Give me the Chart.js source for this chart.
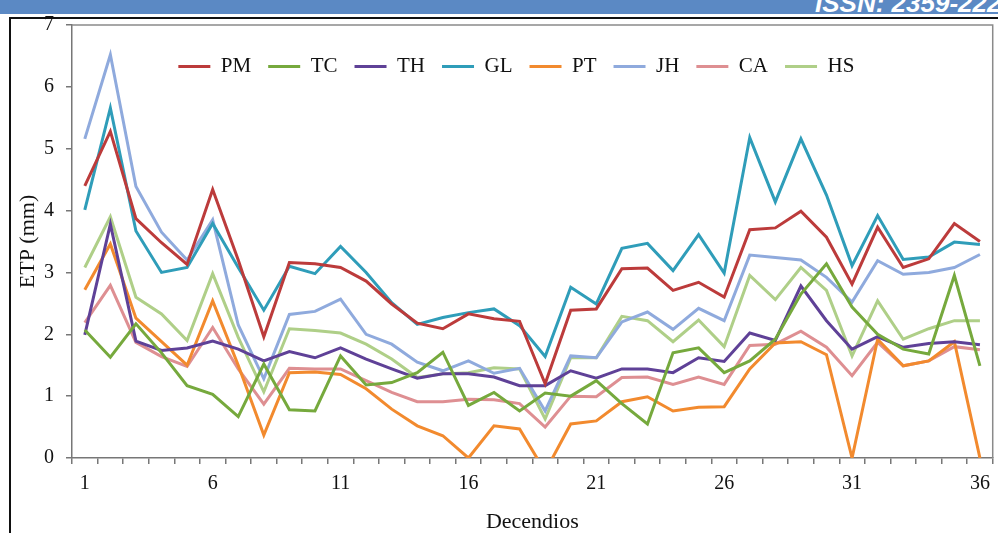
<!DOCTYPE html>
<html>
<head>
<meta charset="utf-8">
<script src="https://cdn.jsdelivr.net/npm/chart.js@4.4.1/dist/chart.umd.min.js"></script>
<style>
  body { margin: 0; background: #fff; }
  #page { position: relative; width: 998px; height: 533px; overflow: hidden; }
  #band { position: absolute; left: 0; top: 0; width: 998px; height: 14px; background: #5b89c4; overflow: hidden; }
  #band span { position: absolute; left: 815px; top: -12px; white-space: nowrap; color: #fff; font: italic bold 26px "Liberation Sans", sans-serif; }
  #frame { position: absolute; left: 9px; top: 17px; width: 1000px; height: 530px; border-left: 2px solid #111; border-top: 2px solid #111; }
  #wrap { position: absolute; left: 0; top: 0; width: 998px; height: 533px; }
</style>
</head>
<body>
<div id="page">
  <div id="band"><span>ISSN: 2359-2222</span></div>
  <div id="frame"></div>
  <div id="wrap"><canvas id="chart"></canvas></div>
</div>
<script>
// Decendios 1..36
const decendios = Array.from({ length: 36 }, (_, i) => String(i + 1));

// ETP (mm) per method
const pm = [4.40, 5.28, 3.87, 3.48, 3.13, 4.34, 3.20, 1.96, 3.16, 3.14, 3.08, 2.86, 2.49, 2.18, 2.09, 2.33, 2.25, 2.21, 1.20, 2.39, 2.41, 3.06, 3.07, 2.71, 2.84, 2.60, 3.69, 3.72, 3.99, 3.57, 2.81, 3.73, 3.08, 3.22, 3.79, 3.50];
const tc = [2.07, 1.63, 2.17, 1.70, 1.17, 1.03, 0.67, 1.52, 0.78, 0.76, 1.65, 1.18, 1.22, 1.38, 1.71, 0.85, 1.06, 0.76, 1.05, 1.00, 1.25, 0.88, 0.55, 1.70, 1.78, 1.38, 1.57, 1.92, 2.65, 3.14, 2.44, 2.00, 1.76, 1.68, 2.95, 1.49];
const th = [1.99, 3.78, 1.89, 1.74, 1.78, 1.89, 1.76, 1.57, 1.72, 1.62, 1.78, 1.60, 1.44, 1.29, 1.36, 1.36, 1.31, 1.17, 1.17, 1.41, 1.29, 1.44, 1.44, 1.38, 1.62, 1.56, 2.02, 1.90, 2.78, 2.22, 1.76, 1.96, 1.79, 1.85, 1.88, 1.83];
const gl = [4.01, 5.66, 3.67, 3.00, 3.08, 3.79, 3.08, 2.39, 3.10, 2.98, 3.42, 3.00, 2.51, 2.16, 2.27, 2.35, 2.41, 2.14, 1.64, 2.76, 2.49, 3.39, 3.47, 3.03, 3.61, 2.99, 5.18, 4.14, 5.16, 4.25, 3.11, 3.92, 3.21, 3.25, 3.49, 3.45];
const pt = [2.72, 3.46, 2.26, 1.88, 1.50, 2.54, 1.50, 0.37, 1.38, 1.39, 1.35, 1.12, 0.79, 0.52, 0.36, 0.00, 0.52, 0.47, -0.22, 0.55, 0.60, 0.91, 0.99, 0.76, 0.82, 0.83, 1.44, 1.86, 1.88, 1.67, 0.00, 1.92, 1.49, 1.57, 1.88, 0.00];
const jh = [5.16, 6.52, 4.39, 3.65, 3.20, 3.85, 2.15, 1.28, 2.32, 2.37, 2.57, 2.00, 1.84, 1.55, 1.41, 1.57, 1.37, 1.45, 0.76, 1.65, 1.62, 2.20, 2.36, 2.08, 2.42, 2.22, 3.28, 3.24, 3.20, 2.92, 2.52, 3.19, 2.97, 3.00, 3.08, 3.29];
const ca = [2.19, 2.79, 1.87, 1.64, 1.48, 2.11, 1.44, 0.87, 1.45, 1.44, 1.44, 1.25, 1.06, 0.91, 0.91, 0.95, 0.94, 0.88, 0.50, 1.00, 0.99, 1.30, 1.31, 1.19, 1.31, 1.19, 1.82, 1.84, 2.05, 1.79, 1.33, 1.87, 1.49, 1.57, 1.80, 1.75];
const hs = [3.08, 3.90, 2.60, 2.33, 1.90, 2.98, 1.95, 1.07, 2.09, 2.06, 2.02, 1.84, 1.60, 1.30, 1.36, 1.38, 1.46, 1.44, 0.63, 1.62, 1.62, 2.29, 2.22, 1.88, 2.23, 1.80, 2.95, 2.56, 3.08, 2.71, 1.65, 2.54, 1.92, 2.09, 2.22, 2.22];

const yTicks = [0, 1, 2, 3, 4, 5, 6, 7];

const series = [
    ['PM', pm, '#bc3b3b'],
    ['TC', tc, '#76a93d'],
    ['TH', th, '#5f4197'],
    ['GL', gl, '#2f9db9'],
    ['PT', pt, '#f28a2e'],
    ['JH', jh, '#8faadd'],
    ['CA', ca, '#de8f92'],
    ['HS', hs, '#afcf88']
];

const serif = '"Liberation Serif", "Times New Roman", serif';

// box round the plot area (top and right sides)
const plotBox = {
    id: 'plotBox',
    beforeDatasetsDraw(chart) {
        const { ctx, chartArea: a } = chart;
        ctx.save();
        ctx.strokeStyle = '#8a8a8a';
        ctx.lineWidth = 1.5;
        ctx.beginPath();
        ctx.moveTo(a.left, a.top);
        ctx.lineTo(a.right, a.top);
        ctx.lineTo(a.right, a.bottom);
        ctx.stroke();
        ctx.restore();
    }
};

// keep the legend inside the plot, but as one row (a bit left of centre)
const legendRow = {
    id: 'legendRow',
    beforeLayout(chart) {
        if (chart.legend) chart.legend.isHorizontal = () => true;
    },
    afterLayout(chart) {
        const lg = chart.legend, a = chart.chartArea;
        if (!lg) return;
        lg.left = a.left - 16;
        lg.right = a.right - 16;
        lg.width = a.right - a.left;
        lg.top = a.top;
    }
};

new Chart(document.getElementById('chart'), {
    type: 'line',
    data: {
        labels: decendios,
        datasets: series.map(([name, values, color]) => ({
            label: name,
            data: values,
            borderColor: color,
            backgroundColor: color,
            borderWidth: 3,
            pointRadius: 0,
            tension: 0,
            fill: false
        }))
    },
    options: {
        responsive: true,
        maintainAspectRatio: false,
        animation: false,
        layout: { padding: { left: 15, right: 5, top: 25, bottom: 0 } },
        plugins: {
            tooltip: { enabled: false },
            legend: {
                position: 'chartArea',
                align: 'center',
                title: { display: true, text: '', padding: { top: 2, bottom: 0 }, font: { size: 10 } },
                labels: {
                    boxWidth: 32,
                    boxHeight: 3,
                    padding: 17,
                    color: '#111',
                    font: { family: serif, size: 21 },
                    generateLabels: chart =>
                        Chart.defaults.plugins.legend.labels.generateLabels(chart)
                            .map(l => ({ ...l, lineWidth: 0 }))
                }
            }
        },
        scales: {
            x: {
                type: 'category',
                offset: true,
                grid: { offset: true, drawOnChartArea: false, tickLength: 6, color: '#777', lineWidth: 1.5 },
                border: { color: '#777', width: 1.5 },
                ticks: {
                    autoSkip: false,
                    maxRotation: 0,
                    padding: 8,
                    color: '#111',
                    font: { family: serif, size: 20 },
                    callback: function (v, i) { return i % 5 === 0 ? this.getLabelForValue(v) : ''; }
                },
                title: {
                    display: true,
                    text: 'Decendios',
                    color: '#111',
                    font: { family: serif, size: 22, lineHeight: 1.0 },
                    padding: { top: 7, bottom: 0 }
                }
            },
            y: {
                min: yTicks[0],
                max: yTicks[yTicks.length - 1],
                afterBuildTicks: axis => { axis.ticks = yTicks.map(v => ({ value: v })); },
                afterFit: axis => { axis.width = 57; },
                grid: { drawOnChartArea: false, tickLength: 6, color: '#777', lineWidth: 1.5 },
                border: { color: '#777', width: 1.5 },
                ticks: {
                    padding: 12,
                    color: '#111',
                    font: { family: serif, size: 20 }
                },
                title: {
                    display: true,
                    text: 'ETP (mm)',
                    color: '#111',
                    font: { family: serif, size: 22 },
                    padding: { top: 0, bottom: 2 }
                }
            }
        }
    },
    plugins: [plotBox, legendRow]
});
</script>
</body>
</html>
